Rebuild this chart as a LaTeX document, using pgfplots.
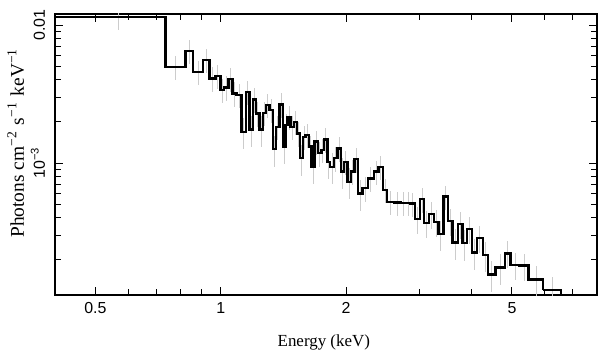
\documentclass[border=0pt]{standalone}
\usepackage{fontspec}
\setmainfont{Liberation Serif}
\newfontfamily\sansfont{Liberation Sans}
\usepackage{pgfplots}
\usepackage{pgfplotstable}
\pgfplotsset{compat=1.18}
\pgfplotstableread{
lo hi f e
0.400 0.736 0.01148 0.20
0.736 0.823 0.004985 0.20
0.823 0.857 0.006512 0.20
0.857 0.906 0.004587 0.20
0.906 0.940 0.005577 0.20
0.940 0.971 0.004110 0.20
0.971 0.998 0.004270 0.20
0.998 1.017 0.003381 0.20
1.017 1.044 0.003537 0.20
1.044 1.067 0.004062 0.20
1.067 1.092 0.003199 0.20
1.092 1.122 0.003110 0.20
1.122 1.150 0.001685 0.25
1.150 1.171 0.003285 0.20
1.171 1.193 0.001754 0.25
1.193 1.215 0.002894 0.20
1.215 1.238 0.002292 0.20
1.238 1.262 0.001754 0.25
1.262 1.285 0.002315 0.20
1.285 1.309 0.002633 0.20
1.309 1.334 0.002421 0.20
1.334 1.359 0.001257 0.25
1.359 1.384 0.001832 0.20
1.384 1.411 0.002663 0.20
1.411 1.429 0.001313 0.25
1.429 1.447 0.001886 0.20
1.447 1.469 0.002165 0.20
1.469 1.497 0.001823 0.20
1.497 1.525 0.001982 0.20
1.525 1.547 0.001641 0.20
1.547 1.577 0.001082 0.25
1.577 1.597 0.001543 0.20
1.597 1.627 0.001595 0.20
1.627 1.652 0.001313 0.20
1.652 1.680 0.000940 0.25
1.680 1.711 0.001427 0.20
1.711 1.744 0.001176 0.20
1.744 1.769 0.001242 0.20
1.769 1.803 0.001485 0.20
1.803 1.829 0.001022 0.25
1.829 1.870 0.000940 0.25
1.870 1.906 0.001082 0.20
1.906 1.942 0.001278 0.20
1.942 1.978 0.000865 0.25
1.978 2.016 0.001022 0.20
2.016 2.053 0.000732 0.25
2.053 2.094 0.000870 0.20
2.094 2.138 0.001064 0.20
2.138 2.191 0.000603 0.25
2.191 2.253 0.000656 0.20
2.253 2.329 0.000774 0.20
2.329 2.390 0.000865 0.20
2.390 2.449 0.000940 0.20
2.449 2.509 0.000637 0.20
2.509 2.609 0.000522 0.20
2.609 2.698 0.000517 0.20
2.698 2.782 0.000513 0.20
2.782 2.852 0.000513 0.20
2.852 2.922 0.000509 0.20
2.922 3.004 0.000393 0.22
3.004 3.078 0.000546 0.20
3.078 3.159 0.000369 0.22
3.159 3.255 0.000427 0.22
3.255 3.329 0.000375 0.22
3.329 3.423 0.000306 0.25
3.423 3.506 0.000570 0.20
3.506 3.599 0.000380 0.22
3.599 3.707 0.000265 0.25
3.707 3.805 0.000360 0.22
3.805 3.898 0.000262 0.25
3.898 4.008 0.000332 0.22
4.008 4.121 0.000224 0.25
4.121 4.254 0.000285 0.22
4.254 4.381 0.000215 0.25
4.381 4.564 0.0001556 0.25
4.564 4.804 0.0001754 0.25
4.804 4.962 0.0002216 0.22
4.962 5.209 0.0001823 0.22
5.209 5.477 0.0001803 0.22
5.477 5.944 0.0001436 0.25
5.944 6.556 0.0001202 0.25
}\bins
\begin{document}
\begin{tikzpicture}
\useasboundingbox (-55bp,-62bp) rectangle (553bp,295bp);
\begin{axis}[
  at={(0,0)}, anchor=south west,
  width=542bp, height=281bp, scale only axis,
  xmode=log, ymode=log,
  xmin=0.4, xmax=8, ymin=1.105e-4, ymax=0.01202,
  xtick={0.5,1,2,5}, xticklabels={0.5,1,2,5},
  minor xtick={0.6,0.7,0.8,0.9,3,4,6,7},
  ytick={0.001,0.01}, yticklabels={10\textsuperscript{−3},0.01},
  minor ytick={2e-4,3e-4,4e-4,5e-4,6e-4,7e-4,8e-4,9e-4,2e-3,3e-3,4e-3,5e-3,6e-3,7e-3,8e-3,9e-3},
  axis line style={line width=1.5bp},
  every tick/.style={black, line width=1bp},
  tick align=inside,
  major tick length=8bp, minor tick length=6bp,
  xticklabel style={font=\sansfont\fontsize{16}{16}\selectfont, anchor=north, inner sep=0pt},
  xticklabel shift=7bp,
  yticklabel style={font=\sansfont\fontsize{16}{16}\selectfont, rotate=90, anchor=base, inner sep=0pt},
  yticklabel shift=10bp,
  xlabel={Energy (keV)},
  ylabel={Photons cm\textsuperscript{−2}\,\,s\textsuperscript{−1}\,\,keV\textsuperscript{−1}},
  xlabel style={font=\fontsize{17}{17}\selectfont, at={(axis description cs:0.496,-0.1815)}, anchor=base, inner sep=0pt},
  ylabel style={font=\fontsize{19.5}{19.5}\selectfont, at={(axis description cs:-0.0572,0.54)}, anchor=base, rotate=0, inner sep=0pt},
  clip=true,
]
\addplot[draw=none, mark=none, forget plot,
  error bars/.cd, y dir=both, y explicit relative, error mark=none,
  error bar style={black!20, line width=0.9bp}]
  table[x expr={(\thisrow{lo}+\thisrow{hi})/2}, y=f, y error=e] {\bins};
\addplot[const plot, black, line width=2.4bp, line join=miter] table[x=lo, y=f] {\bins};
\addplot[const plot, black, line width=2.4bp] coordinates {(5.944,0.0001202) (6.556,0.0001202) (6.556,0.00005)};
\end{axis}
\end{tikzpicture}
\end{document}
